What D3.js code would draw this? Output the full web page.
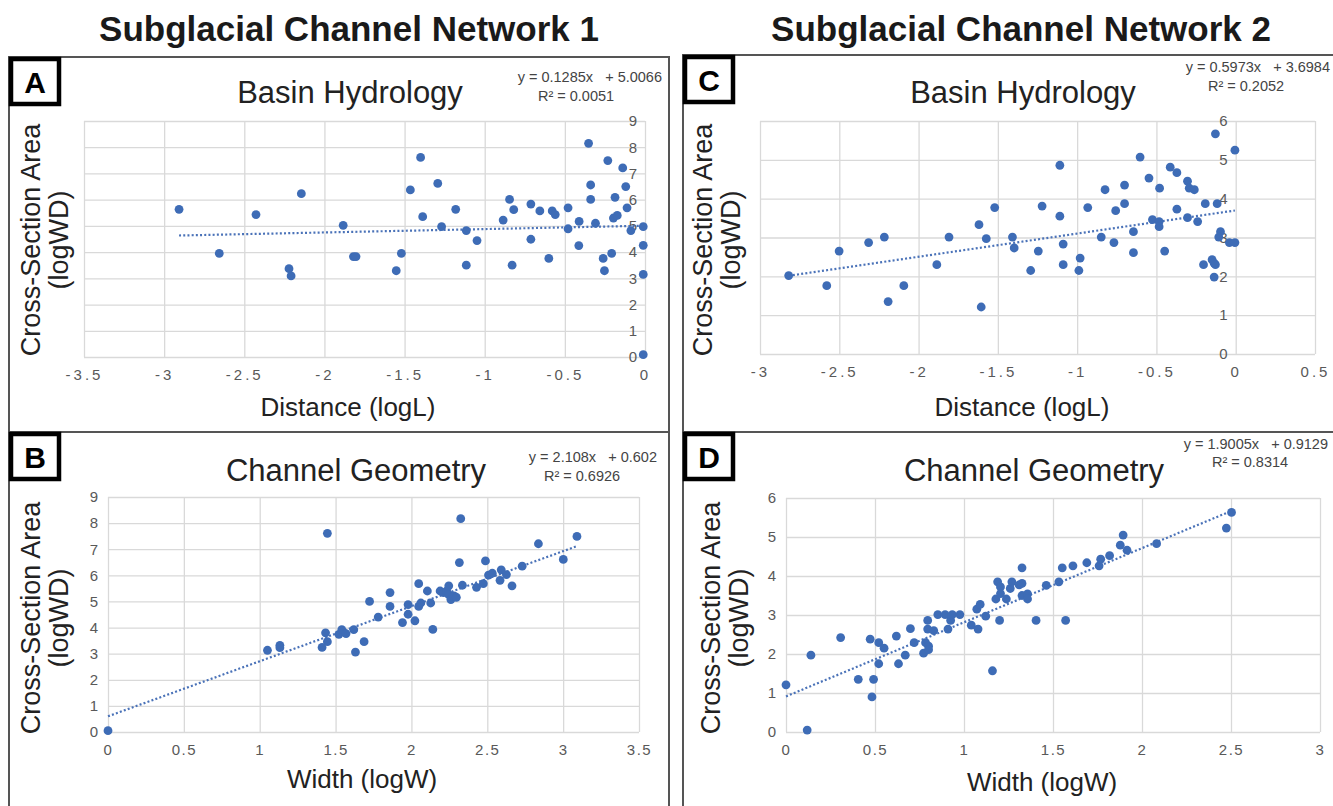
<!DOCTYPE html>
<html>
<head>
<meta charset="utf-8">
<script src="https://cdn.jsdelivr.net/npm/d3@7"></script>
<style>
  body { margin: 0; background: #fff; }
  svg { font-family: "Liberation Sans", Arial, Helvetica, sans-serif; }
</style>
</head>
<body>
<div id="chart"></div>
<script>
// ---- data ----
const networkTitles = ["Subglacial Channel Network 1", "Subglacial Channel Network 2"];
const panelLetters = ["A", "B", "C", "D"];
const panelTitles = ["Basin Hydrology", "Channel Geometry", "Basin Hydrology", "Channel Geometry"];
const xTitles = ["Distance (logL)", "Width (logW)", "Distance (logL)", "Width (logW)"];
const eqTexts = ["y = 0.1285x   + 5.0066", "y = 2.108x   + 0.602", "y = 0.5973x   + 3.6984", "y = 1.9005x   + 0.9129"];
const r2Texts = ["R² = 0.0051", "R² = 0.6926", "R² = 0.2052", "R² = 0.8314"];
const slopes = [0.1285, 2.108, 0.5973, 1.9005];
const intercepts = [5.0066, 0.602, 3.6984, 0.9129];

const aXTicks = [-3.5, -3, -2.5, -2, -1.5, -1, -0.5, 0];
const cXTicks = [-3, -2.5, -2, -1.5, -1, -0.5, 0, 0.5];
const bXTicks = [0, 0.5, 1, 1.5, 2, 2.5, 3, 3.5];
const dXTicks = [0, 0.5, 1, 1.5, 2, 2.5, 3];
const yTicks9 = [0, 1, 2, 3, 4, 5, 6, 7, 8, 9];
const yTicks6 = [0, 1, 2, 3, 4, 5, 6];

// A: network 1, distance vs cross-section
const aX = [-2.907, -2.656, -2.427, -2.221, -2.208, -2.144, -1.883, -1.819, -1.803, -1.552, -1.52, -1.464, -1.4, -1.387,
  -1.293, -1.269, -1.181, -1.115, -1.115, -1.048, -0.885, -0.845, -0.819, -0.829, -0.712, -0.712, -0.656, -0.6,
  -0.579, -0.56, -0.48, -0.48, -0.411, -0.413, -0.352, -0.339, -0.339, -0.309, -0.261, -0.253, -0.232, -0.187,
  -0.197, -0.173, -0.208, -0.12, -0.112, -0.139, -0.088, -0.011, -0.011, -0.011, -0.011];
const aY = [5.63, 3.95, 5.43, 3.37, 3.09, 6.23, 5.02, 3.83, 3.83, 3.29, 3.95, 6.37, 7.61, 5.35,
  6.62, 4.97, 5.63, 4.82, 3.5, 4.44, 5.22, 6.01, 5.62, 3.5, 5.83, 4.49, 5.57, 3.76,
  5.57, 5.43, 5.69, 4.89, 5.17, 4.25, 8.15, 6.56, 6.01, 5.1, 3.76, 3.29, 7.49, 6.09,
  5.3, 5.4, 3.95, 6.5, 5.69, 7.21, 4.82, 4.97, 4.26, 3.15, 0.09];

// B: network 1, width vs cross-section
const bX = [0, 1.051, 1.133, 1.133, 1.411, 1.434, 1.446, 1.446, 1.522, 1.541, 1.569, 1.62, 1.631, 1.688, 1.724,
  1.781, 1.859, 1.859, 1.941, 1.978, 1.978, 2.023, 2.048, 2.048, 2.062, 2.105, 2.127, 2.141, 2.189, 2.212,
  2.232, 2.246, 2.246, 2.26, 2.28, 2.296, 2.316, 2.325, 2.336, 2.429, 2.474, 2.488, 2.508, 2.533, 2.584,
  2.592, 2.626, 2.663, 2.73, 2.837, 3.001, 3.091];
const bY = [0.05, 3.13, 3.32, 3.23, 3.24, 3.8, 3.46, 7.61, 3.74, 3.92, 3.77, 3.92, 3.06, 3.46, 5.0,
  4.4, 5.34, 4.81, 4.19, 4.51, 4.88, 4.26, 5.68, 4.81, 4.94, 5.4, 4.94, 3.93, 5.4, 5.34,
  5.4, 5.6, 5.26, 5.07, 5.21, 5.16, 6.49, 8.17, 5.62, 5.54, 5.68, 6.55, 6.01, 6.08, 5.81,
  6.21, 6.03, 5.6, 6.35, 7.21, 6.61, 7.49];

// C: network 2, distance vs cross-section
const cX = [-2.819, -2.579, -2.501, -2.315, -2.216, -2.192, -2.093, -1.885, -1.808, -1.619, -1.605, -1.573, -1.52,
  -1.408, -1.397, -1.293, -1.245, -1.221, -1.109, -1.109, -1.088, -1.088, -0.989, -0.981, -0.933, -0.848,
  -0.824, -0.768, -0.757, -0.701, -0.701, -0.645, -0.645, -0.603, -0.547, -0.525, -0.483, -0.483, -0.48,
  -0.448, -0.413, -0.371, -0.371, -0.304, -0.293, -0.261, -0.304, -0.24, -0.203, -0.192, -0.128, -0.117,
  -0.149, -0.136, -0.128, -0.136, -0.096, -0.107, -0.04, -0.005, -0.005];
const cY = [2.02, 1.76, 2.65, 2.87, 3.01, 1.35, 1.76, 2.3, 3.01, 3.33, 1.21, 2.97, 3.77,
  3.01, 2.73, 2.15, 2.65, 3.81, 4.86, 3.55, 2.83, 2.3, 2.15, 2.47, 3.77, 3.01,
  4.23, 2.87, 3.69, 4.35, 3.87, 3.15, 2.61, 5.07, 4.53, 3.46, 3.41, 3.28, 4.27,
  2.65, 4.81, 4.67, 3.73, 4.45, 4.27, 4.23, 3.51, 3.41, 2.3, 3.87, 5.67, 3.87,
  2.43, 2.34, 2.3, 1.98, 3.15, 3.01, 2.87, 2.87, 5.25];

// D: network 2, width vs cross-section
const dX = [0, 0.119, 0.14, 0.307, 0.406, 0.473, 0.492, 0.483, 0.521, 0.521, 0.551, 0.62, 0.632, 0.67, 0.699,
  0.72, 0.773, 0.784, 0.801, 0.801, 0.796, 0.796, 0.83, 0.853, 0.894, 0.91, 0.925, 0.934, 0.977, 1.041,
  1.079, 1.072, 1.091, 1.122, 1.16, 1.179, 1.189, 1.2, 1.205, 1.205, 1.238, 1.26, 1.269, 1.31, 1.326,
  1.326, 1.326, 1.357, 1.357, 1.405, 1.462, 1.533, 1.552, 1.571, 1.612, 1.69, 1.759, 1.768, 1.818, 1.878,
  1.894, 1.916, 2.082, 2.474, 2.503];
const dY = [1.21, 0.05, 1.97, 2.42, 1.35, 2.38, 1.35, 0.9, 2.29, 1.75, 2.15, 2.46, 1.75, 1.97, 2.65,
  2.29, 2.02, 2.29, 2.2, 2.11, 2.86, 2.64, 2.6, 3.01, 3.01, 2.64, 2.86, 3.01, 3.01, 2.74,
  2.64, 3.15, 3.27, 2.97, 1.57, 3.41, 3.85, 2.86, 3.72, 3.55, 3.41, 3.68, 3.85, 3.77, 4.21,
  3.81, 3.5, 3.54, 3.41, 2.86, 3.76, 3.85, 4.21, 2.86, 4.26, 4.34, 4.26, 4.43, 4.52, 4.79,
  5.05, 4.66, 4.83, 5.23, 5.63];

const width = 1333, height = 806;
const dotColor = "#3e6cb6";
const tickColor = "#595959";
const gridColor = "#d9d9d9";

const svg = d3.select("#chart").append("svg")
  .attr("width", width)
  .attr("height", height);

// column headings
svg.selectAll(".net-title")
  .data(networkTitles)
  .enter().append("text")
  .attr("class", "net-title")
  .attr("x", (d, i) => i === 0 ? 349 : 1021)
  .attr("y", 41)
  .attr("text-anchor", "middle")
  .attr("font-size", 35)
  .attr("font-weight", "bold")
  .attr("fill", "#1a1a1a")
  .text(d => d);

// panel layout (frame, plot box, text anchors)
const panels = [
  { xs: aX, ys: aY, xTicks: aXTicks, yTicks: yTicks9, xDom: [-3.5, 0], yDom: [0, 9], axisAtZero: true,
    frame: [9, 57, 375], plot: [84, 645, 121, 357], spacing: 3,
    title: [350, 103], eq: [662, 82], r2: [576, 101], xt: [348, 416], yt: [30, 58, 240] },
  { xs: bX, ys: bY, xTicks: bXTicks, yTicks: yTicks9, xDom: [0, 3.5], yDom: [0, 9], axisAtZero: false,
    frame: [9, 432, 400], plot: [108, 639, 497, 732], spacing: 1.5,
    title: [356, 481], eq: [657, 462], r2: [582, 481], xt: [362, 788], yt: [30, 58, 618] },
  { xs: cX, ys: cY, xTicks: cXTicks, yTicks: yTicks6, xDom: [-3, 0.5], yDom: [0, 6], axisAtZero: true,
    frame: [683, 55, 377], plot: [760, 1315, 121, 354], spacing: 3,
    title: [1023, 103], eq: [1330, 72], r2: [1246, 91], xt: [1022, 416], yt: [702, 730, 240] },
  { xs: dX, ys: dY, xTicks: dXTicks, yTicks: yTicks6, xDom: [0, 3], yDom: [0, 6], axisAtZero: false,
    frame: [683, 432, 400], plot: [786, 1320, 498, 732], spacing: 1.5,
    title: [1034, 481], eq: [1328, 449], r2: [1250, 467], xt: [1042, 791], yt: [710, 738, 618] }
];

panels.forEach((p, i) => drawPanel(p, i));

function drawPanel(p, i) {
  const [left, right, top, bottom] = p.plot;
  const g = svg.append("g");

  // outer frame
  g.append("rect")
    .attr("x", p.frame[0]).attr("y", p.frame[1])
    .attr("width", 660).attr("height", p.frame[2])
    .attr("fill", "none")
    .attr("stroke", "#555")
    .attr("stroke-width", 2);

  const x = d3.scaleLinear().domain(p.xDom).range([left, right]);
  const y = d3.scaleLinear().domain(p.yDom).range([bottom, top]);

  // grid
  g.append("g")
    .attr("transform", `translate(0,${bottom})`)
    .call(d3.axisBottom(x).tickValues(p.xTicks).tickSize(-(bottom - top)).tickFormat(""))
    .call(s => s.select(".domain").remove())
    .call(s => s.selectAll("line").attr("stroke", gridColor).attr("stroke-width", 1.3));
  g.append("g")
    .attr("transform", `translate(${left},0)`)
    .call(d3.axisLeft(y).tickValues(p.yTicks).tickSize(-(right - left)).tickFormat(""))
    .call(s => s.select(".domain").remove())
    .call(s => s.selectAll("line").attr("stroke", gridColor).attr("stroke-width", 1.3));

  // x tick labels
  g.append("g")
    .attr("transform", `translate(0,${bottom + 8})`)
    .call(d3.axisBottom(x).tickValues(p.xTicks).tickSize(0).tickPadding(0).tickFormat(d => String(d)))
    .call(s => s.select(".domain").remove())
    .call(s => s.selectAll("text")
      .attr("dy", "1em")
      .attr("font-size", 15)
      .attr("font-family", "Liberation Sans, Arial, sans-serif")
      .attr("fill", tickColor)
      .style("letter-spacing", p.spacing + "px"));

  // y tick labels (at x = 0 for the distance plots)
  const yAxisX = p.axisAtZero ? x(0) - 8 : left - 10;
  g.append("g")
    .attr("transform", `translate(${yAxisX},0)`)
    .call(d3.axisLeft(y).tickValues(p.yTicks).tickSize(0).tickPadding(0).tickFormat(d3.format("d")))
    .call(s => s.select(".domain").remove())
    .call(s => s.selectAll("text")
      .attr("font-size", 15)
      .attr("font-family", "Liberation Sans, Arial, sans-serif")
      .attr("fill", tickColor));

  // trendline from the fitted equation over the data range
  const [x0, x1] = d3.extent(p.xs);
  const fit = d3.line()
    .x(d => x(d))
    .y(d => y(slopes[i] * d + intercepts[i]));
  g.append("path")
    .datum([x0, x1])
    .attr("d", fit)
    .attr("fill", "none")
    .attr("stroke", "#4a72b8")
    .attr("stroke-width", 2.2)
    .attr("stroke-dasharray", "2,2.2");

  // points
  g.selectAll(".dot")
    .data(p.xs.map((d, k) => ({ x: d, y: p.ys[k] })))
    .enter().append("circle")
    .attr("cx", d => x(d.x))
    .attr("cy", d => y(d.y))
    .attr("r", 4.4)
    .attr("fill", dotColor);

  // panel title
  g.append("text")
    .attr("x", p.title[0]).attr("y", p.title[1])
    .attr("text-anchor", "middle")
    .attr("font-size", 31)
    .attr("fill", "#222")
    .text(panelTitles[i]);

  // regression label
  g.append("text")
    .attr("x", p.eq[0]).attr("y", p.eq[1])
    .attr("text-anchor", "end")
    .attr("font-size", 14.5)
    .attr("fill", "#444")
    .style("white-space", "pre")
    .text(eqTexts[i]);
  g.append("text")
    .attr("x", p.r2[0]).attr("y", p.r2[1])
    .attr("text-anchor", "middle")
    .attr("font-size", 14.5)
    .attr("fill", "#444")
    .text(r2Texts[i]);

  // axis titles
  g.append("text")
    .attr("x", p.xt[0]).attr("y", p.xt[1])
    .attr("text-anchor", "middle")
    .attr("font-size", 26)
    .attr("fill", "#222")
    .text(xTitles[i]);
  g.append("text")
    .attr("transform", `translate(${p.yt[0] + 10},${p.yt[2]}) rotate(-90)`)
    .attr("text-anchor", "middle")
    .attr("font-size", 27)
    .attr("fill", "#222")
    .text("Cross-Section Area");
  g.append("text")
    .attr("transform", `translate(${p.yt[1] + 10},${p.yt[2]}) rotate(-90)`)
    .attr("text-anchor", "middle")
    .attr("font-size", 27)
    .attr("fill", "#222")
    .text("(logWD)");

  // letter box
  g.append("rect")
    .attr("x", p.frame[0] + 2).attr("y", p.frame[1] + 2)
    .attr("width", 48).attr("height", 45)
    .attr("fill", "#fff")
    .attr("stroke", "#000")
    .attr("stroke-width", 4.5);
  g.append("text")
    .attr("x", p.frame[0] + 26).attr("y", p.frame[1] + 36)
    .attr("text-anchor", "middle")
    .attr("font-size", 30)
    .attr("font-weight", "bold")
    .text(panelLetters[i]);
}
</script>
</body>
</html>
